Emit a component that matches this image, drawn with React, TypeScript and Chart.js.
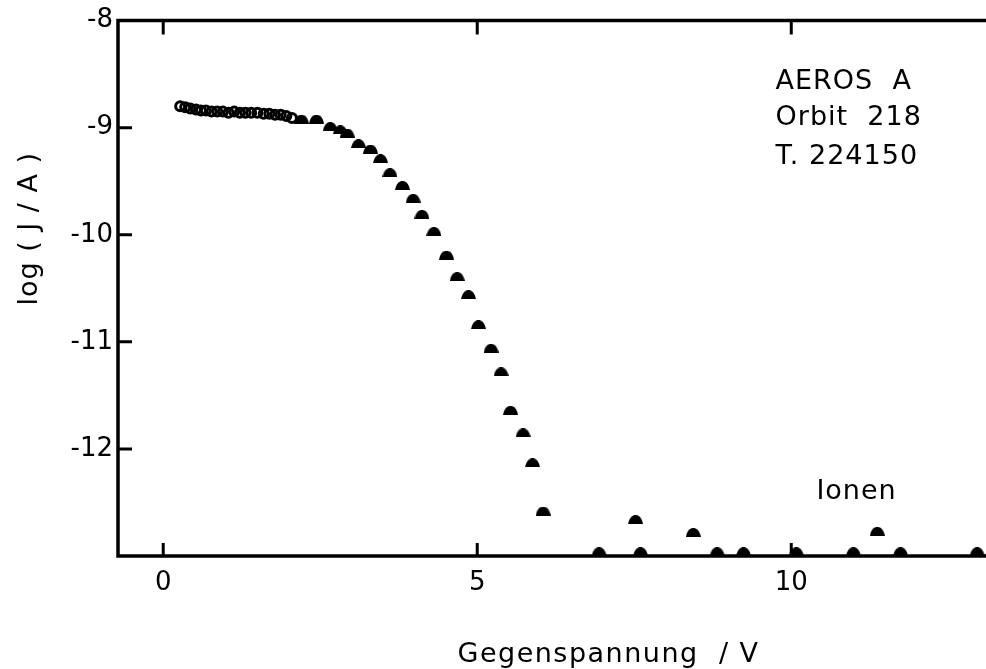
import React, { useEffect, useRef } from "react";
import { Chart, registerables } from "chart.js";

Chart.register(...registerables);

// Plateau of the electron current (open circles), retarding voltage in V, log10 of current
const plateauVoltage = [0.27, 0.35, 0.43, 0.52, 0.6, 0.68, 0.77, 0.86, 0.95, 1.04, 1.13, 1.22, 1.31, 1.4, 1.5, 1.6, 1.69, 1.78, 1.87, 1.96, 2.05];
const plateauLogJ = [-8.8, -8.81, -8.82, -8.83, -8.84, -8.84, -8.85, -8.85, -8.85, -8.86, -8.85, -8.86, -8.86, -8.86, -8.86, -8.87, -8.87, -8.88, -8.88, -8.89, -8.91];

// Retarding sweep of the electron current (filled markers)
const sweepVoltage = [2.2, 2.44, 2.66, 2.82, 2.93, 3.11, 3.3, 3.46, 3.61, 3.81, 3.98, 4.12, 4.31, 4.51, 4.68, 4.86, 5.02, 5.22, 5.38, 5.53, 5.73, 5.88, 6.05];
const sweepLogJ = [-8.92, -8.92, -8.99, -9.02, -9.05, -9.15, -9.2, -9.29, -9.42, -9.54, -9.66, -9.81, -9.97, -10.19, -10.39, -10.56, -10.84, -11.06, -11.28, -11.64, -11.85, -12.13, -12.58];

// Ion branch near the lower limit
const ionVoltage = [6.94, 7.52, 7.6, 8.44, 8.82, 9.24, 10.08, 10.99, 11.37, 11.74, 12.96];
const ionLogJ = [-12.96, -12.66, -12.96, -12.78, -12.96, -12.96, -12.96, -12.96, -12.77, -12.96, -12.96];

// Axis ranges and tick values
const X_MIN = -0.72;
const X_MAX = 14.9;
const Y_MIN = -13;
const Y_MAX = -8;
const X_TICKS = [0, 5, 10, 15];
const Y_TICKS = [-8, -9, -10, -11, -12];

// Texts
const INFO_LINES = ["AEROS  A", "Orbit  218", "T. 224150"];
const ION_LABEL = "Ionen";
const X_TITLE = "Gegenspannung  / V";
const Y_TITLE = "log ( J / A )";

const FONT = "'DejaVu Sans', sans-serif";
const INK = "#000";

function makeDome(w: number, h: number): HTMLCanvasElement {
  const c = document.createElement("canvas");
  c.width = w;
  c.height = h;
  const g = c.getContext("2d")!;
  g.fillStyle = INK;
  g.beginPath();
  g.moveTo(0, h);
  g.bezierCurveTo(w * 0.1, h * 0.2, w * 0.3, 0, w / 2, 0);
  g.bezierCurveTo(w * 0.7, 0, w * 0.9, h * 0.2, w, h);
  g.closePath();
  g.fill();
  return c;
}

const framePlugin = {
  id: "frame",
  beforeDatasetsDraw(chart: any) {
    const { ctx, chartArea } = chart;
    const { left, right, top, bottom } = chartArea;
    const xs = chart.scales.x;
    const ys = chart.scales.y;
    ctx.save();
    ctx.strokeStyle = INK;
    ctx.lineWidth = 3.5;
    ctx.lineCap = "square";
    ctx.beginPath();
    ctx.moveTo(right, top);
    ctx.lineTo(left, top);
    ctx.lineTo(left, bottom);
    ctx.lineTo(right, bottom);
    ctx.lineTo(right, top);
    ctx.stroke();

    ctx.lineCap = "butt";
    ctx.lineWidth = 3;
    ctx.beginPath();
    X_TICKS.forEach((v) => {
      if (v < X_MIN || v > X_MAX) return;
      const px = xs.getPixelForValue(v);
      ctx.moveTo(px, bottom);
      ctx.lineTo(px, bottom - 13);
      ctx.moveTo(px, top);
      ctx.lineTo(px, top + 14);
    });
    Y_TICKS.forEach((v) => {
      if (v === Y_MAX) return;
      const py = ys.getPixelForValue(v);
      ctx.moveTo(left, py);
      ctx.lineTo(left + 14, py);
      ctx.moveTo(right, py);
      ctx.lineTo(right - 14, py);
    });
    ctx.stroke();
    ctx.restore();
  },
  afterDraw(chart: any) {
    const { ctx, chartArea } = chart;
    const xs = chart.scales.x;
    const ys = chart.scales.y;
    ctx.save();
    ctx.fillStyle = INK;
    ctx.textBaseline = "alphabetic";

    // Mission / orbit block
    ctx.font = `27px ${FONT}`;
    ctx.textAlign = "left";
    (ctx as any).letterSpacing = "1px";
    const infoX = xs.getPixelForValue(9.75);
    const infoY = [-8.64, -8.975, -9.34];
    INFO_LINES.forEach((t, i) => ctx.fillText(t, infoX, ys.getPixelForValue(infoY[i])));

    // Ion branch label
    ctx.fillText(ION_LABEL, xs.getPixelForValue(10.4), ys.getPixelForValue(-12.47));

    // x-axis title
    ctx.font = `27px ${FONT}`;
    (ctx as any).letterSpacing = "1.5px";
    ctx.textAlign = "center";
    ctx.fillText(X_TITLE, (chartArea.left + chartArea.right) / 2, 662);

    // y-axis title
    const midY = (ys.getPixelForValue(Y_TICKS[0]) + ys.getPixelForValue(Y_TICKS[Y_TICKS.length - 1])) / 2;
    ctx.translate(37, midY - 6);
    ctx.rotate(-Math.PI / 2);
    ctx.font = `27px ${FONT}`;
    (ctx as any).letterSpacing = "1px";
    ctx.fillText(Y_TITLE, 0, 0);
    ctx.restore();
  },
};

export default function App() {
  const canvasRef = useRef<HTMLCanvasElement | null>(null);

  useEffect(() => {
    const canvas = canvasRef.current;
    if (!canvas) return;
    const dome = makeDome(15, 9);

    const chart = new Chart(canvas, {
      type: "scatter",
      data: {
        datasets: [
          {
            label: "plateau",
            data: plateauVoltage.map((x, i) => ({ x, y: plateauLogJ[i] })),
            pointStyle: "circle",
            pointRadius: 4.5,
            pointBorderWidth: 3,
            pointBorderColor: INK,
            pointBackgroundColor: "rgba(255,255,255,0)",
            showLine: false,
            clip: false,
          },
          {
            label: "sweep",
            data: sweepVoltage.map((x, i) => ({ x, y: sweepLogJ[i] })),
            pointStyle: dome,
            showLine: false,
            clip: false,
          },
          {
            label: "ions",
            data: ionVoltage.map((x, i) => ({ x, y: ionLogJ[i] })),
            pointStyle: dome,
            showLine: false,
            clip: false,
          },
        ],
      },
      options: {
        responsive: false,
        animation: false,
        layout: { padding: { top: 13, right: 11, left: 0, bottom: 0 } },
        plugins: {
          legend: { display: false },
          tooltip: { enabled: false },
        },
        scales: {
          x: {
            type: "linear",
            min: X_MIN,
            max: X_MAX,
            grid: { display: false, drawTicks: false },
            border: { display: false },
            afterBuildTicks: (s: any) => {
              s.ticks = X_TICKS.filter((v) => v >= X_MIN && v <= X_MAX).map((v) => ({ value: v }));
            },
            afterFit: (s: any) => {
              s.height = 113;
            },
            ticks: {
              color: INK,
              font: { family: FONT, size: 26 },
              padding: 12,
              maxRotation: 0,
              autoSkip: false,
              callback: (v: any) => String(v),
            },
          },
          y: {
            type: "linear",
            min: Y_MIN,
            max: Y_MAX,
            grid: { display: false, drawTicks: false },
            border: { display: false },
            afterBuildTicks: (s: any) => {
              s.ticks = Y_TICKS.map((v) => ({ value: v }));
            },
            afterFit: (s: any) => {
              s.width = 118;
            },
            ticks: {
              color: INK,
              font: { family: FONT, size: 26 },
              padding: 5,
              autoSkip: false,
              callback: (v: any) => String(v),
            },
          },
        },
      },
      plugins: [framePlugin],
    });

    return () => chart.destroy();
  }, []);

  return (
    <div
      style={{
        position: "fixed",
        left: 0,
        top: 0,
        width: 986,
        height: 669,
        overflow: "hidden",
        background: "#fff",
      }}
    >
      <canvas ref={canvasRef} width={1110} height={669} style={{ display: "block" }} />
    </div>
  );
}
